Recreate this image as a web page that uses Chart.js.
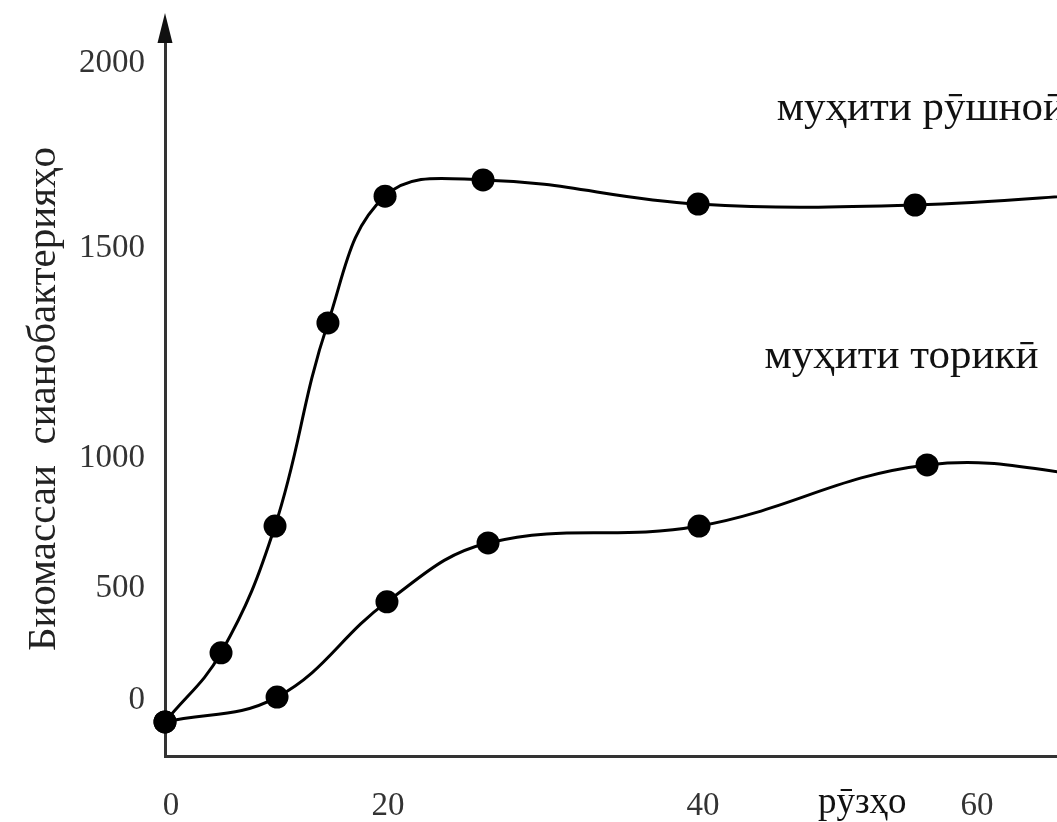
<!DOCTYPE html>
<html>
<head>
<meta charset="utf-8">
<script src="https://cdn.jsdelivr.net/npm/chart.js@4.4.1/dist/chart.umd.min.js"></script>
<style>
  html, body { margin: 0; padding: 0; background: #fff; overflow: hidden; }
  #wrap { width: 1057px; height: 822px; position: relative; }
</style>
</head>
<body>
<div id="wrap"><canvas id="c"></canvas></div>
<script>
// ---- data (axis is schematic, ticks sit where the labels are printed) ----
const lightDays    = [0, 4.14, 8.13, 12.04, 16.26, 23.5, 39.39, 55.42, 70];
const lightBiomass = [-69, 148, 546, 1184, 1582, 1633, 1557, 1554, 1592];
const darkDays     = [0, 8.28, 16.40, 23.87, 39.46, 56.31, 70];
const darkBiomass  = [-69, 9, 308, 493, 546, 738, 697];

const xTickValues = [0.44, 16.48, 39.75, 60];
const xTickLabels = ['0', '20', '40', '60'];
const yTickValues = [0, 352, 760, 1419, 2000];
const yTickLabels = ['0', '500', '1000', '1500', '2000'];

const seriesNames = ['муҳити рӯшноӣ', 'муҳити торикӣ'];
const xAxisTitle  = 'рӯзҳо';
const yAxisTitle  = 'Биомассаи  сианобактерияҳо';

const FONT = '"Liberation Serif", "DejaVu Serif", serif';

const toPoints = (xs, ys) => xs.map((x, i) => ({ x: x, y: ys[i] }));

const lineStyle = {
  borderColor: '#000',
  borderWidth: 3,
  pointRadius: 11.5,
  pointHoverRadius: 11.5,
  pointBackgroundColor: '#000',
  pointBorderWidth: 0,
  tension: 0.4,
  fill: false,
  clip: false
};

const decorations = {
  id: 'decorations',
  afterDraw(chart, args, opts) {
    const { ctx, chartArea, scales } = chart;
    const x = scales.x, y = scales.y;
    ctx.save();
    // arrow head on the y axis
    ctx.fillStyle = '#111';
    ctx.beginPath();
    ctx.moveTo(chartArea.left, chartArea.top - 29);
    ctx.lineTo(chartArea.left - 7.5, chartArea.top + 1);
    ctx.lineTo(chartArea.left + 7.5, chartArea.top + 1);
    ctx.closePath();
    ctx.fill();
    // series labels
    ctx.fillStyle = '#111';
    ctx.textAlign = 'left';
    ctx.textBaseline = 'alphabetic';
    ctx.font = '43px ' + FONT;
    opts.labels.forEach((l, i) => {
      ctx.fillText(seriesNames[i], x.getPixelForValue(l.x), y.getPixelForValue(l.y));
    });
    // x axis name
    ctx.font = '37px ' + FONT;
    ctx.fillText(xAxisTitle, x.getPixelForValue(opts.xTitleAt), chartArea.bottom + 57);
    ctx.restore();
  }
};

new Chart(document.getElementById('c'), {
  type: 'line',
  data: {
    datasets: [
      Object.assign({ label: seriesNames[0], data: toPoints(lightDays, lightBiomass) }, lineStyle),
      Object.assign({ label: seriesNames[1], data: toPoints(darkDays, darkBiomass) }, lineStyle)
    ]
  },
  options: {
    responsive: true,
    maintainAspectRatio: false,
    animation: false,
    events: [],
    layout: { autoPadding: false, padding: { top: 42, left: 0, right: 0, bottom: 0 } },
    plugins: {
      legend: { display: false },
      tooltip: { enabled: false },
      decorations: {
        labels: [ { x: 45.2, y: 1821 }, { x: 44.3, y: 1042 } ],
        xTitleAt: 48.25
      }
    },
    scales: {
      x: {
        type: 'linear',
        min: 0,
        max: 65.91,
        grid: { display: false, drawTicks: false },
        border: { display: true, color: '#333', width: 3 },
        ticks: {
          font: { family: FONT, size: 33 },
          color: '#333',
          padding: 31,
          maxRotation: 0,
          autoSkip: false,
          callback: (v, i) => xTickLabels[i]
        },
        afterBuildTicks: s => { s.ticks = xTickValues.map(v => ({ value: v })); },
        afterFit: s => { s.height = 66; s.paddingLeft = 0; s.paddingRight = 0; }
      },
      y: {
        type: 'linear',
        min: -176,
        max: 2066,
        grid: { display: false, drawTicks: false },
        border: { display: true, color: '#333', width: 3 },
        ticks: {
          font: { family: FONT, size: 33 },
          color: '#333',
          padding: 20,
          autoSkip: false,
          callback: (v, i) => yTickLabels[i]
        },
        title: {
          display: true,
          text: yAxisTitle,
          font: { family: FONT, size: 41 },
          color: '#222',
          padding: { top: 20, bottom: 0 }
        },
        afterBuildTicks: s => { s.ticks = yTickValues.map(v => ({ value: v })); },
        afterFit: s => { s.width = 165; s.paddingTop = 0; s.paddingBottom = 0; }
      }
    }
  },
  plugins: [decorations]
});
</script>
</body>
</html>
